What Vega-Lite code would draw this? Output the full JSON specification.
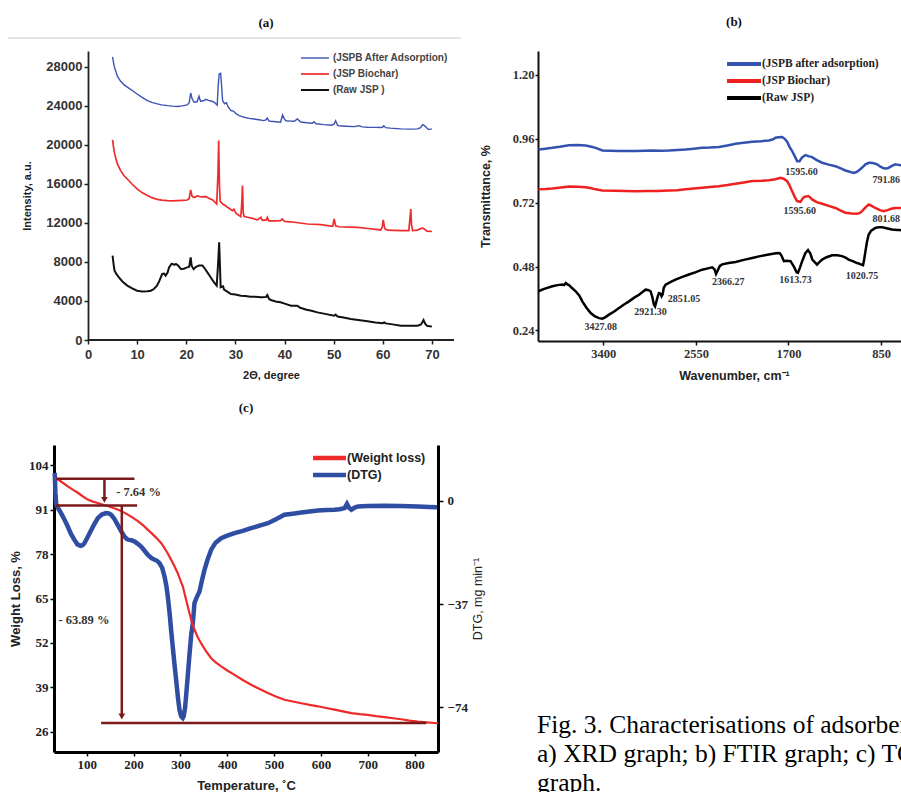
{
"$schema": "https://vega.github.io/schema/vega-lite/v6.json",
"background": "white",
"padding": {"left": 7, "top": 16, "right": 0, "bottom": 0},
"config": {"view": {"stroke": null}, "axis": {"grid": false, "labelOverlap": false}, "title": {"font": "Liberation Serif", "fontSize": 13, "fontWeight": "bold", "color": "#111", "frame": "group", "anchor": "middle"}},
"datasets": {
"xrd": [
{"x":5.0,"y":29000,"s":"(JSPB After Adsorption)"},{"x":5.3,"y":28100,"s":"(JSPB After Adsorption)"},{"x":5.6,"y":27600,"s":"(JSPB After Adsorption)"},{"x":6.0,"y":27000,"s":"(JSPB After Adsorption)"},{"x":6.65,"y":26500,"s":"(JSPB After Adsorption)"},{"x":7.3,"y":26150,"s":"(JSPB After Adsorption)"},{"x":8.0,"y":25900,"s":"(JSPB After Adsorption)"},{"x":9.0,"y":25550,"s":"(JSPB After Adsorption)"},{"x":10.0,"y":25200,"s":"(JSPB After Adsorption)"},{"x":11.0,"y":24850,"s":"(JSPB After Adsorption)"},{"x":12.1,"y":24520,"s":"(JSPB After Adsorption)"},{"x":13.0,"y":24330,"s":"(JSPB After Adsorption)"},{"x":14.1,"y":24180,"s":"(JSPB After Adsorption)"},{"x":15.0,"y":24080,"s":"(JSPB After Adsorption)"},{"x":16.2,"y":24000,"s":"(JSPB After Adsorption)"},{"x":17.2,"y":23950,"s":"(JSPB After Adsorption)"},{"x":18.2,"y":23920,"s":"(JSPB After Adsorption)"},{"x":19.2,"y":23980,"s":"(JSPB After Adsorption)"},{"x":20.2,"y":24080,"s":"(JSPB After Adsorption)"},{"x":20.6,"y":24300,"s":"(JSPB After Adsorption)"},{"x":20.9,"y":25300,"s":"(JSPB After Adsorption)"},{"x":21.2,"y":24700,"s":"(JSPB After Adsorption)"},{"x":21.6,"y":24350,"s":"(JSPB After Adsorption)"},{"x":22.2,"y":24400,"s":"(JSPB After Adsorption)"},{"x":22.6,"y":24960,"s":"(JSPB After Adsorption)"},{"x":22.9,"y":24450,"s":"(JSPB After Adsorption)"},{"x":23.5,"y":24500,"s":"(JSPB After Adsorption)"},{"x":24.0,"y":24650,"s":"(JSPB After Adsorption)"},{"x":24.5,"y":24550,"s":"(JSPB After Adsorption)"},{"x":25.2,"y":24450,"s":"(JSPB After Adsorption)"},{"x":25.7,"y":24350,"s":"(JSPB After Adsorption)"},{"x":26.3,"y":24050,"s":"(JSPB After Adsorption)"},{"x":26.5,"y":26000,"s":"(JSPB After Adsorption)"},{"x":26.7,"y":27250,"s":"(JSPB After Adsorption)"},{"x":27.0,"y":27320,"s":"(JSPB After Adsorption)"},{"x":27.2,"y":26000,"s":"(JSPB After Adsorption)"},{"x":27.4,"y":24520,"s":"(JSPB After Adsorption)"},{"x":27.8,"y":24200,"s":"(JSPB After Adsorption)"},{"x":28.2,"y":24300,"s":"(JSPB After Adsorption)"},{"x":28.5,"y":23900,"s":"(JSPB After Adsorption)"},{"x":29.1,"y":23500,"s":"(JSPB After Adsorption)"},{"x":29.6,"y":23450,"s":"(JSPB After Adsorption)"},{"x":30.2,"y":23150,"s":"(JSPB After Adsorption)"},{"x":30.8,"y":22980,"s":"(JSPB After Adsorption)"},{"x":31.8,"y":22810,"s":"(JSPB After Adsorption)"},{"x":32.8,"y":22700,"s":"(JSPB After Adsorption)"},{"x":33.8,"y":22640,"s":"(JSPB After Adsorption)"},{"x":34.8,"y":22560,"s":"(JSPB After Adsorption)"},{"x":35.8,"y":22470,"s":"(JSPB After Adsorption)"},{"x":36.2,"y":22550,"s":"(JSPB After Adsorption)"},{"x":36.5,"y":22740,"s":"(JSPB After Adsorption)"},{"x":36.8,"y":22450,"s":"(JSPB After Adsorption)"},{"x":37.2,"y":22400,"s":"(JSPB After Adsorption)"},{"x":38.2,"y":22350,"s":"(JSPB After Adsorption)"},{"x":39.2,"y":22300,"s":"(JSPB After Adsorption)"},{"x":39.6,"y":23050,"s":"(JSPB After Adsorption)"},{"x":40.0,"y":22600,"s":"(JSPB After Adsorption)"},{"x":40.3,"y":22450,"s":"(JSPB After Adsorption)"},{"x":41.2,"y":22420,"s":"(JSPB After Adsorption)"},{"x":42.0,"y":22400,"s":"(JSPB After Adsorption)"},{"x":42.6,"y":22640,"s":"(JSPB After Adsorption)"},{"x":43.3,"y":22330,"s":"(JSPB After Adsorption)"},{"x":44.5,"y":22250,"s":"(JSPB After Adsorption)"},{"x":45.7,"y":22200,"s":"(JSPB After Adsorption)"},{"x":46.0,"y":22350,"s":"(JSPB After Adsorption)"},{"x":46.4,"y":22150,"s":"(JSPB After Adsorption)"},{"x":48.0,"y":22060,"s":"(JSPB After Adsorption)"},{"x":49.5,"y":22000,"s":"(JSPB After Adsorption)"},{"x":50.1,"y":22100,"s":"(JSPB After Adsorption)"},{"x":50.4,"y":22450,"s":"(JSPB After Adsorption)"},{"x":50.8,"y":22000,"s":"(JSPB After Adsorption)"},{"x":51.1,"y":21950,"s":"(JSPB After Adsorption)"},{"x":52.5,"y":21900,"s":"(JSPB After Adsorption)"},{"x":54.2,"y":21850,"s":"(JSPB After Adsorption)"},{"x":55.2,"y":21950,"s":"(JSPB After Adsorption)"},{"x":55.8,"y":21830,"s":"(JSPB After Adsorption)"},{"x":56.9,"y":21790,"s":"(JSPB After Adsorption)"},{"x":58.5,"y":21780,"s":"(JSPB After Adsorption)"},{"x":59.9,"y":21760,"s":"(JSPB After Adsorption)"},{"x":60.2,"y":21950,"s":"(JSPB After Adsorption)"},{"x":60.6,"y":21750,"s":"(JSPB After Adsorption)"},{"x":61.5,"y":21700,"s":"(JSPB After Adsorption)"},{"x":63.7,"y":21620,"s":"(JSPB After Adsorption)"},{"x":65.5,"y":21600,"s":"(JSPB After Adsorption)"},{"x":67.1,"y":21620,"s":"(JSPB After Adsorption)"},{"x":67.7,"y":21750,"s":"(JSPB After Adsorption)"},{"x":68.1,"y":22060,"s":"(JSPB After Adsorption)"},{"x":68.5,"y":21950,"s":"(JSPB After Adsorption)"},{"x":68.8,"y":21800,"s":"(JSPB After Adsorption)"},{"x":69.3,"y":21550,"s":"(JSPB After Adsorption)"},{"x":70.0,"y":21620,"s":"(JSPB After Adsorption)"},
{"x":5.0,"y":20490,"s":"(JSP Biochar)"},{"x":5.3,"y":19400,"s":"(JSP Biochar)"},{"x":5.6,"y":18710,"s":"(JSP Biochar)"},{"x":6.0,"y":18000,"s":"(JSP Biochar)"},{"x":6.65,"y":17350,"s":"(JSP Biochar)"},{"x":7.3,"y":16850,"s":"(JSP Biochar)"},{"x":8.0,"y":16490,"s":"(JSP Biochar)"},{"x":9.0,"y":15950,"s":"(JSP Biochar)"},{"x":10.0,"y":15470,"s":"(JSP Biochar)"},{"x":11.0,"y":15100,"s":"(JSP Biochar)"},{"x":12.1,"y":14790,"s":"(JSP Biochar)"},{"x":13.0,"y":14580,"s":"(JSP Biochar)"},{"x":14.1,"y":14410,"s":"(JSP Biochar)"},{"x":15.0,"y":14330,"s":"(JSP Biochar)"},{"x":16.2,"y":14270,"s":"(JSP Biochar)"},{"x":17.2,"y":14250,"s":"(JSP Biochar)"},{"x":18.2,"y":14270,"s":"(JSP Biochar)"},{"x":19.2,"y":14300,"s":"(JSP Biochar)"},{"x":20.2,"y":14340,"s":"(JSP Biochar)"},{"x":20.6,"y":14500,"s":"(JSP Biochar)"},{"x":20.9,"y":15370,"s":"(JSP Biochar)"},{"x":21.2,"y":14700,"s":"(JSP Biochar)"},{"x":21.6,"y":14600,"s":"(JSP Biochar)"},{"x":22.3,"y":14750,"s":"(JSP Biochar)"},{"x":23.0,"y":14650,"s":"(JSP Biochar)"},{"x":24.0,"y":14680,"s":"(JSP Biochar)"},{"x":24.7,"y":14500,"s":"(JSP Biochar)"},{"x":25.4,"y":14340,"s":"(JSP Biochar)"},{"x":26.2,"y":13930,"s":"(JSP Biochar)"},{"x":26.45,"y":17000,"s":"(JSP Biochar)"},{"x":26.6,"y":20420,"s":"(JSP Biochar)"},{"x":26.75,"y":16000,"s":"(JSP Biochar)"},{"x":26.9,"y":14200,"s":"(JSP Biochar)"},{"x":27.5,"y":13900,"s":"(JSP Biochar)"},{"x":28.0,"y":13750,"s":"(JSP Biochar)"},{"x":28.4,"y":13590,"s":"(JSP Biochar)"},{"x":29.4,"y":13250,"s":"(JSP Biochar)"},{"x":29.7,"y":13400,"s":"(JSP Biochar)"},{"x":30.1,"y":13000,"s":"(JSP Biochar)"},{"x":31.1,"y":12640,"s":"(JSP Biochar)"},{"x":31.3,"y":14000,"s":"(JSP Biochar)"},{"x":31.45,"y":15810,"s":"(JSP Biochar)"},{"x":31.6,"y":13000,"s":"(JSP Biochar)"},{"x":31.8,"y":12650,"s":"(JSP Biochar)"},{"x":32.5,"y":12570,"s":"(JSP Biochar)"},{"x":33.5,"y":12450,"s":"(JSP Biochar)"},{"x":34.5,"y":12300,"s":"(JSP Biochar)"},{"x":35.2,"y":12570,"s":"(JSP Biochar)"},{"x":35.5,"y":12250,"s":"(JSP Biochar)"},{"x":36.3,"y":12300,"s":"(JSP Biochar)"},{"x":36.5,"y":12550,"s":"(JSP Biochar)"},{"x":36.8,"y":12200,"s":"(JSP Biochar)"},{"x":38.0,"y":12200,"s":"(JSP Biochar)"},{"x":39.2,"y":12230,"s":"(JSP Biochar)"},{"x":39.5,"y":12400,"s":"(JSP Biochar)"},{"x":40.0,"y":12150,"s":"(JSP Biochar)"},{"x":42.0,"y":12060,"s":"(JSP Biochar)"},{"x":44.7,"y":11880,"s":"(JSP Biochar)"},{"x":47.4,"y":11820,"s":"(JSP Biochar)"},{"x":49.8,"y":11650,"s":"(JSP Biochar)"},{"x":50.1,"y":12400,"s":"(JSP Biochar)"},{"x":50.4,"y":11700,"s":"(JSP Biochar)"},{"x":51.0,"y":11600,"s":"(JSP Biochar)"},{"x":54.8,"y":11540,"s":"(JSP Biochar)"},{"x":57.0,"y":11420,"s":"(JSP Biochar)"},{"x":59.6,"y":11270,"s":"(JSP Biochar)"},{"x":59.9,"y":11600,"s":"(JSP Biochar)"},{"x":60.1,"y":12300,"s":"(JSP Biochar)"},{"x":60.4,"y":11400,"s":"(JSP Biochar)"},{"x":61.0,"y":11250,"s":"(JSP Biochar)"},{"x":63.7,"y":11200,"s":"(JSP Biochar)"},{"x":65.3,"y":11200,"s":"(JSP Biochar)"},{"x":65.55,"y":12500,"s":"(JSP Biochar)"},{"x":65.7,"y":13420,"s":"(JSP Biochar)"},{"x":65.85,"y":11800,"s":"(JSP Biochar)"},{"x":66.1,"y":11200,"s":"(JSP Biochar)"},{"x":67.0,"y":11250,"s":"(JSP Biochar)"},{"x":68.1,"y":11470,"s":"(JSP Biochar)"},{"x":68.5,"y":11350,"s":"(JSP Biochar)"},{"x":69.0,"y":11150,"s":"(JSP Biochar)"},{"x":70.0,"y":11130,"s":"(JSP Biochar)"},
{"x":5.0,"y":8640,"s":"(Raw JSP )"},{"x":5.2,"y":7800,"s":"(Raw JSP )"},{"x":5.4,"y":7100,"s":"(Raw JSP )"},{"x":5.8,"y":6750,"s":"(Raw JSP )"},{"x":6.3,"y":6420,"s":"(Raw JSP )"},{"x":7.0,"y":6000,"s":"(Raw JSP )"},{"x":8.0,"y":5570,"s":"(Raw JSP )"},{"x":9.0,"y":5280,"s":"(Raw JSP )"},{"x":10.0,"y":5050,"s":"(Raw JSP )"},{"x":11.0,"y":4980,"s":"(Raw JSP )"},{"x":12.1,"y":4990,"s":"(Raw JSP )"},{"x":12.8,"y":5050,"s":"(Raw JSP )"},{"x":13.4,"y":5220,"s":"(Raw JSP )"},{"x":14.0,"y":5550,"s":"(Raw JSP )"},{"x":14.4,"y":5910,"s":"(Raw JSP )"},{"x":15.1,"y":6760,"s":"(Raw JSP )"},{"x":15.5,"y":6800,"s":"(Raw JSP )"},{"x":15.8,"y":6590,"s":"(Raw JSP )"},{"x":16.2,"y":6900,"s":"(Raw JSP )"},{"x":16.5,"y":7440,"s":"(Raw JSP )"},{"x":17.0,"y":7800,"s":"(Raw JSP )"},{"x":17.2,"y":7790,"s":"(Raw JSP )"},{"x":17.6,"y":7700,"s":"(Raw JSP )"},{"x":17.9,"y":7790,"s":"(Raw JSP )"},{"x":18.4,"y":7600,"s":"(Raw JSP )"},{"x":18.9,"y":7270,"s":"(Raw JSP )"},{"x":19.5,"y":7300,"s":"(Raw JSP )"},{"x":20.2,"y":7440,"s":"(Raw JSP )"},{"x":20.6,"y":7500,"s":"(Raw JSP )"},{"x":20.9,"y":8470,"s":"(Raw JSP )"},{"x":21.1,"y":7600,"s":"(Raw JSP )"},{"x":21.5,"y":7250,"s":"(Raw JSP )"},{"x":22.0,"y":7500,"s":"(Raw JSP )"},{"x":22.6,"y":7620,"s":"(Raw JSP )"},{"x":23.3,"y":7620,"s":"(Raw JSP )"},{"x":23.8,"y":7300,"s":"(Raw JSP )"},{"x":24.3,"y":6930,"s":"(Raw JSP )"},{"x":25.0,"y":6400,"s":"(Raw JSP )"},{"x":25.4,"y":6080,"s":"(Raw JSP )"},{"x":25.9,"y":5750,"s":"(Raw JSP )"},{"x":26.2,"y":5570,"s":"(Raw JSP )"},{"x":26.5,"y":8000,"s":"(Raw JSP )"},{"x":26.7,"y":10010,"s":"(Raw JSP )"},{"x":26.9,"y":7000,"s":"(Raw JSP )"},{"x":27.0,"y":5400,"s":"(Raw JSP )"},{"x":27.5,"y":5500,"s":"(Raw JSP )"},{"x":27.7,"y":5150,"s":"(Raw JSP )"},{"x":28.5,"y":4900,"s":"(Raw JSP )"},{"x":29.1,"y":4710,"s":"(Raw JSP )"},{"x":30.0,"y":4650,"s":"(Raw JSP )"},{"x":31.1,"y":4540,"s":"(Raw JSP )"},{"x":32.0,"y":4500,"s":"(Raw JSP )"},{"x":33.1,"y":4440,"s":"(Raw JSP )"},{"x":34.0,"y":4420,"s":"(Raw JSP )"},{"x":35.2,"y":4370,"s":"(Raw JSP )"},{"x":36.2,"y":4400,"s":"(Raw JSP )"},{"x":36.5,"y":4600,"s":"(Raw JSP )"},{"x":36.8,"y":4250,"s":"(Raw JSP )"},{"x":37.2,"y":4100,"s":"(Raw JSP )"},{"x":38.2,"y":3950,"s":"(Raw JSP )"},{"x":39.2,"y":3860,"s":"(Raw JSP )"},{"x":40.2,"y":3700,"s":"(Raw JSP )"},{"x":41.3,"y":3520,"s":"(Raw JSP )"},{"x":42.6,"y":3520,"s":"(Raw JSP )"},{"x":43.2,"y":3300,"s":"(Raw JSP )"},{"x":44.5,"y":3100,"s":"(Raw JSP )"},{"x":45.5,"y":3000,"s":"(Raw JSP )"},{"x":46.7,"y":2830,"s":"(Raw JSP )"},{"x":48.5,"y":2650,"s":"(Raw JSP )"},{"x":50.1,"y":2490,"s":"(Raw JSP )"},{"x":50.4,"y":2600,"s":"(Raw JSP )"},{"x":50.8,"y":2400,"s":"(Raw JSP )"},{"x":52.0,"y":2300,"s":"(Raw JSP )"},{"x":53.5,"y":2150,"s":"(Raw JSP )"},{"x":55.0,"y":2050,"s":"(Raw JSP )"},{"x":56.9,"y":1910,"s":"(Raw JSP )"},{"x":58.5,"y":1800,"s":"(Raw JSP )"},{"x":60.0,"y":1720,"s":"(Raw JSP )"},{"x":60.3,"y":1810,"s":"(Raw JSP )"},{"x":60.6,"y":1700,"s":"(Raw JSP )"},{"x":62.0,"y":1600,"s":"(Raw JSP )"},{"x":63.7,"y":1470,"s":"(Raw JSP )"},{"x":65.5,"y":1450,"s":"(Raw JSP )"},{"x":67.1,"y":1470,"s":"(Raw JSP )"},{"x":67.8,"y":1600,"s":"(Raw JSP )"},{"x":68.3,"y":2050,"s":"(Raw JSP )"},{"x":68.6,"y":1700,"s":"(Raw JSP )"},{"x":69.0,"y":1450,"s":"(Raw JSP )"},{"x":70.0,"y":1370,"s":"(Raw JSP )"}
],
"sep": [{"x1": -16.28, "x2": 75.93, "y": 30931}],
"xbase": [{"x1": 0, "x2": 74.5, "y": 0}],
"lega": [{"x1":43.35,"x2":49.05,"lx":49.87,"y":28883,"s":"(JSPB After Adsorption)"},{"x1":43.35,"x2":49.05,"lx":49.87,"y":27245,"s":"(JSP Biochar)"},{"x1":43.35,"x2":49.05,"lx":49.87,"y":25606,"s":"(Raw JSP )"}],
"ftir": [
{"w":3996,"t":0.920,"s":"(JSPB after adsorption)"},{"w":3950,"t":0.922,"s":"(JSPB after adsorption)"},{"w":3868,"t":0.926,"s":"(JSPB after adsorption)"},{"w":3800,"t":0.930,"s":"(JSPB after adsorption)"},{"w":3715,"t":0.936,"s":"(JSPB after adsorption)"},{"w":3640,"t":0.937,"s":"(JSPB after adsorption)"},{"w":3562,"t":0.935,"s":"(JSPB after adsorption)"},{"w":3510,"t":0.930,"s":"(JSPB after adsorption)"},{"w":3470,"t":0.926,"s":"(JSPB after adsorption)"},{"w":3409,"t":0.916,"s":"(JSPB after adsorption)"},{"w":3330,"t":0.915,"s":"(JSPB after adsorption)"},{"w":3256,"t":0.914,"s":"(JSPB after adsorption)"},{"w":3180,"t":0.914,"s":"(JSPB after adsorption)"},{"w":3103,"t":0.914,"s":"(JSPB after adsorption)"},{"w":3020,"t":0.915,"s":"(JSPB after adsorption)"},{"w":2950,"t":0.916,"s":"(JSPB after adsorption)"},{"w":2870,"t":0.915,"s":"(JSPB after adsorption)"},{"w":2798,"t":0.916,"s":"(JSPB after adsorption)"},{"w":2720,"t":0.918,"s":"(JSPB after adsorption)"},{"w":2645,"t":0.920,"s":"(JSPB after adsorption)"},{"w":2570,"t":0.923,"s":"(JSPB after adsorption)"},{"w":2492,"t":0.926,"s":"(JSPB after adsorption)"},{"w":2420,"t":0.927,"s":"(JSPB after adsorption)"},{"w":2339,"t":0.929,"s":"(JSPB after adsorption)"},{"w":2260,"t":0.935,"s":"(JSPB after adsorption)"},{"w":2186,"t":0.941,"s":"(JSPB after adsorption)"},{"w":2110,"t":0.945,"s":"(JSPB after adsorption)"},{"w":2033,"t":0.949,"s":"(JSPB after adsorption)"},{"w":1950,"t":0.951,"s":"(JSPB after adsorption)"},{"w":1880,"t":0.954,"s":"(JSPB after adsorption)"},{"w":1840,"t":0.958,"s":"(JSPB after adsorption)"},{"w":1819,"t":0.964,"s":"(JSPB after adsorption)"},{"w":1790,"t":0.966,"s":"(JSPB after adsorption)"},{"w":1758,"t":0.967,"s":"(JSPB after adsorption)"},{"w":1735,"t":0.960,"s":"(JSPB after adsorption)"},{"w":1712,"t":0.949,"s":"(JSPB after adsorption)"},{"w":1690,"t":0.930,"s":"(JSPB after adsorption)"},{"w":1666,"t":0.914,"s":"(JSPB after adsorption)"},{"w":1640,"t":0.893,"s":"(JSPB after adsorption)"},{"w":1620,"t":0.876,"s":"(JSPB after adsorption)"},{"w":1598,"t":0.876,"s":"(JSPB after adsorption)"},{"w":1575,"t":0.890,"s":"(JSPB after adsorption)"},{"w":1544,"t":0.899,"s":"(JSPB after adsorption)"},{"w":1510,"t":0.894,"s":"(JSPB after adsorption)"},{"w":1483,"t":0.891,"s":"(JSPB after adsorption)"},{"w":1440,"t":0.880,"s":"(JSPB after adsorption)"},{"w":1391,"t":0.870,"s":"(JSPB after adsorption)"},{"w":1330,"t":0.863,"s":"(JSPB after adsorption)"},{"w":1269,"t":0.857,"s":"(JSPB after adsorption)"},{"w":1220,"t":0.849,"s":"(JSPB after adsorption)"},{"w":1177,"t":0.841,"s":"(JSPB after adsorption)"},{"w":1130,"t":0.835,"s":"(JSPB after adsorption)"},{"w":1100,"t":0.832,"s":"(JSPB after adsorption)"},{"w":1075,"t":0.835,"s":"(JSPB after adsorption)"},{"w":1054,"t":0.841,"s":"(JSPB after adsorption)"},{"w":1020,"t":0.853,"s":"(JSPB after adsorption)"},{"w":993,"t":0.864,"s":"(JSPB after adsorption)"},{"w":960,"t":0.870,"s":"(JSPB after adsorption)"},{"w":948,"t":0.870,"s":"(JSPB after adsorption)"},{"w":915,"t":0.868,"s":"(JSPB after adsorption)"},{"w":886,"t":0.864,"s":"(JSPB after adsorption)"},{"w":855,"t":0.855,"s":"(JSPB after adsorption)"},{"w":825,"t":0.849,"s":"(JSPB after adsorption)"},{"w":800,"t":0.848,"s":"(JSPB after adsorption)"},{"w":780,"t":0.851,"s":"(JSPB after adsorption)"},{"w":750,"t":0.858,"s":"(JSPB after adsorption)"},{"w":718,"t":0.864,"s":"(JSPB after adsorption)"},{"w":690,"t":0.862,"s":"(JSPB after adsorption)"},{"w":660,"t":0.860,"s":"(JSPB after adsorption)"},{"w":600,"t":0.862,"s":"(JSPB after adsorption)"},
{"w":3996,"t":0.770,"s":"(JSP Biochar)"},{"w":3930,"t":0.771,"s":"(JSP Biochar)"},{"w":3868,"t":0.773,"s":"(JSP Biochar)"},{"w":3790,"t":0.777,"s":"(JSP Biochar)"},{"w":3715,"t":0.781,"s":"(JSP Biochar)"},{"w":3640,"t":0.780,"s":"(JSP Biochar)"},{"w":3562,"t":0.778,"s":"(JSP Biochar)"},{"w":3510,"t":0.774,"s":"(JSP Biochar)"},{"w":3470,"t":0.770,"s":"(JSP Biochar)"},{"w":3409,"t":0.766,"s":"(JSP Biochar)"},{"w":3300,"t":0.765,"s":"(JSP Biochar)"},{"w":3200,"t":0.764,"s":"(JSP Biochar)"},{"w":3103,"t":0.763,"s":"(JSP Biochar)"},{"w":3000,"t":0.764,"s":"(JSP Biochar)"},{"w":2900,"t":0.764,"s":"(JSP Biochar)"},{"w":2798,"t":0.766,"s":"(JSP Biochar)"},{"w":2720,"t":0.767,"s":"(JSP Biochar)"},{"w":2645,"t":0.770,"s":"(JSP Biochar)"},{"w":2570,"t":0.773,"s":"(JSP Biochar)"},{"w":2492,"t":0.776,"s":"(JSP Biochar)"},{"w":2420,"t":0.779,"s":"(JSP Biochar)"},{"w":2339,"t":0.782,"s":"(JSP Biochar)"},{"w":2260,"t":0.786,"s":"(JSP Biochar)"},{"w":2186,"t":0.791,"s":"(JSP Biochar)"},{"w":2110,"t":0.796,"s":"(JSP Biochar)"},{"w":2033,"t":0.801,"s":"(JSP Biochar)"},{"w":1950,"t":0.802,"s":"(JSP Biochar)"},{"w":1880,"t":0.804,"s":"(JSP Biochar)"},{"w":1820,"t":0.808,"s":"(JSP Biochar)"},{"w":1773,"t":0.813,"s":"(JSP Biochar)"},{"w":1745,"t":0.810,"s":"(JSP Biochar)"},{"w":1712,"t":0.801,"s":"(JSP Biochar)"},{"w":1690,"t":0.785,"s":"(JSP Biochar)"},{"w":1666,"t":0.763,"s":"(JSP Biochar)"},{"w":1640,"t":0.740,"s":"(JSP Biochar)"},{"w":1620,"t":0.726,"s":"(JSP Biochar)"},{"w":1590,"t":0.723,"s":"(JSP Biochar)"},{"w":1570,"t":0.735,"s":"(JSP Biochar)"},{"w":1559,"t":0.741,"s":"(JSP Biochar)"},{"w":1519,"t":0.745,"s":"(JSP Biochar)"},{"w":1500,"t":0.740,"s":"(JSP Biochar)"},{"w":1483,"t":0.732,"s":"(JSP Biochar)"},{"w":1440,"t":0.722,"s":"(JSP Biochar)"},{"w":1391,"t":0.716,"s":"(JSP Biochar)"},{"w":1330,"t":0.708,"s":"(JSP Biochar)"},{"w":1269,"t":0.700,"s":"(JSP Biochar)"},{"w":1220,"t":0.690,"s":"(JSP Biochar)"},{"w":1177,"t":0.682,"s":"(JSP Biochar)"},{"w":1120,"t":0.679,"s":"(JSP Biochar)"},{"w":1070,"t":0.678,"s":"(JSP Biochar)"},{"w":1040,"t":0.682,"s":"(JSP Biochar)"},{"w":1024,"t":0.688,"s":"(JSP Biochar)"},{"w":990,"t":0.703,"s":"(JSP Biochar)"},{"w":963,"t":0.713,"s":"(JSP Biochar)"},{"w":935,"t":0.708,"s":"(JSP Biochar)"},{"w":902,"t":0.700,"s":"(JSP Biochar)"},{"w":860,"t":0.692,"s":"(JSP Biochar)"},{"w":825,"t":0.688,"s":"(JSP Biochar)"},{"w":790,"t":0.692,"s":"(JSP Biochar)"},{"w":749,"t":0.698,"s":"(JSP Biochar)"},{"w":710,"t":0.700,"s":"(JSP Biochar)"},{"w":679,"t":0.700,"s":"(JSP Biochar)"},{"w":600,"t":0.702,"s":"(JSP Biochar)"},
{"w":3996,"t":0.387,"s":"(Raw JSP)"},{"w":3950,"t":0.395,"s":"(Raw JSP)"},{"w":3868,"t":0.406,"s":"(Raw JSP)"},{"w":3820,"t":0.410,"s":"(Raw JSP)"},{"w":3776,"t":0.412,"s":"(Raw JSP)"},{"w":3760,"t":0.410,"s":"(Raw JSP)"},{"w":3745,"t":0.418,"s":"(Raw JSP)"},{"w":3730,"t":0.413,"s":"(Raw JSP)"},{"w":3715,"t":0.410,"s":"(Raw JSP)"},{"w":3690,"t":0.400,"s":"(Raw JSP)"},{"w":3654,"t":0.387,"s":"(Raw JSP)"},{"w":3620,"t":0.370,"s":"(Raw JSP)"},{"w":3593,"t":0.349,"s":"(Raw JSP)"},{"w":3555,"t":0.325,"s":"(Raw JSP)"},{"w":3516,"t":0.305,"s":"(Raw JSP)"},{"w":3480,"t":0.293,"s":"(Raw JSP)"},{"w":3440,"t":0.286,"s":"(Raw JSP)"},{"w":3409,"t":0.284,"s":"(Raw JSP)"},{"w":3380,"t":0.290,"s":"(Raw JSP)"},{"w":3348,"t":0.299,"s":"(Raw JSP)"},{"w":3300,"t":0.311,"s":"(Raw JSP)"},{"w":3256,"t":0.324,"s":"(Raw JSP)"},{"w":3210,"t":0.337,"s":"(Raw JSP)"},{"w":3164,"t":0.349,"s":"(Raw JSP)"},{"w":3120,"t":0.362,"s":"(Raw JSP)"},{"w":3072,"t":0.374,"s":"(Raw JSP)"},{"w":3040,"t":0.384,"s":"(Raw JSP)"},{"w":3012,"t":0.393,"s":"(Raw JSP)"},{"w":2990,"t":0.392,"s":"(Raw JSP)"},{"w":2966,"t":0.387,"s":"(Raw JSP)"},{"w":2950,"t":0.365,"s":"(Raw JSP)"},{"w":2936,"t":0.337,"s":"(Raw JSP)"},{"w":2925,"t":0.330,"s":"(Raw JSP)"},{"w":2915,"t":0.345,"s":"(Raw JSP)"},{"w":2900,"t":0.368,"s":"(Raw JSP)"},{"w":2889,"t":0.380,"s":"(Raw JSP)"},{"w":2875,"t":0.378,"s":"(Raw JSP)"},{"w":2865,"t":0.368,"s":"(Raw JSP)"},{"w":2855,"t":0.375,"s":"(Raw JSP)"},{"w":2845,"t":0.400,"s":"(Raw JSP)"},{"w":2828,"t":0.412,"s":"(Raw JSP)"},{"w":2780,"t":0.422,"s":"(Raw JSP)"},{"w":2737,"t":0.431,"s":"(Raw JSP)"},{"w":2680,"t":0.440,"s":"(Raw JSP)"},{"w":2614,"t":0.450,"s":"(Raw JSP)"},{"w":2550,"t":0.459,"s":"(Raw JSP)"},{"w":2492,"t":0.468,"s":"(Raw JSP)"},{"w":2440,"t":0.473,"s":"(Raw JSP)"},{"w":2400,"t":0.477,"s":"(Raw JSP)"},{"w":2380,"t":0.470,"s":"(Raw JSP)"},{"w":2365,"t":0.452,"s":"(Raw JSP)"},{"w":2350,"t":0.465,"s":"(Raw JSP)"},{"w":2330,"t":0.482,"s":"(Raw JSP)"},{"w":2308,"t":0.488,"s":"(Raw JSP)"},{"w":2250,"t":0.493,"s":"(Raw JSP)"},{"w":2186,"t":0.497,"s":"(Raw JSP)"},{"w":2110,"t":0.505,"s":"(Raw JSP)"},{"w":2033,"t":0.512,"s":"(Raw JSP)"},{"w":1960,"t":0.519,"s":"(Raw JSP)"},{"w":1880,"t":0.525,"s":"(Raw JSP)"},{"w":1830,"t":0.529,"s":"(Raw JSP)"},{"w":1800,"t":0.531,"s":"(Raw JSP)"},{"w":1780,"t":0.530,"s":"(Raw JSP)"},{"w":1765,"t":0.522,"s":"(Raw JSP)"},{"w":1742,"t":0.500,"s":"(Raw JSP)"},{"w":1715,"t":0.502,"s":"(Raw JSP)"},{"w":1681,"t":0.500,"s":"(Raw JSP)"},{"w":1650,"t":0.480,"s":"(Raw JSP)"},{"w":1625,"t":0.458,"s":"(Raw JSP)"},{"w":1613,"t":0.456,"s":"(Raw JSP)"},{"w":1595,"t":0.475,"s":"(Raw JSP)"},{"w":1574,"t":0.500,"s":"(Raw JSP)"},{"w":1545,"t":0.530,"s":"(Raw JSP)"},{"w":1520,"t":0.542,"s":"(Raw JSP)"},{"w":1500,"t":0.530,"s":"(Raw JSP)"},{"w":1480,"t":0.505,"s":"(Raw JSP)"},{"w":1467,"t":0.500,"s":"(Raw JSP)"},{"w":1437,"t":0.487,"s":"(Raw JSP)"},{"w":1420,"t":0.495,"s":"(Raw JSP)"},{"w":1391,"t":0.506,"s":"(Raw JSP)"},{"w":1350,"t":0.515,"s":"(Raw JSP)"},{"w":1299,"t":0.522,"s":"(Raw JSP)"},{"w":1250,"t":0.522,"s":"(Raw JSP)"},{"w":1208,"t":0.519,"s":"(Raw JSP)"},{"w":1175,"t":0.513,"s":"(Raw JSP)"},{"w":1147,"t":0.506,"s":"(Raw JSP)"},{"w":1110,"t":0.500,"s":"(Raw JSP)"},{"w":1070,"t":0.493,"s":"(Raw JSP)"},{"w":1045,"t":0.490,"s":"(Raw JSP)"},{"w":1030,"t":0.487,"s":"(Raw JSP)"},{"w":1015,"t":0.485,"s":"(Raw JSP)"},{"w":1005,"t":0.505,"s":"(Raw JSP)"},{"w":993,"t":0.537,"s":"(Raw JSP)"},{"w":980,"t":0.570,"s":"(Raw JSP)"},{"w":963,"t":0.600,"s":"(Raw JSP)"},{"w":940,"t":0.615,"s":"(Raw JSP)"},{"w":902,"t":0.625,"s":"(Raw JSP)"},{"w":870,"t":0.628,"s":"(Raw JSP)"},{"w":841,"t":0.628,"s":"(Raw JSP)"},{"w":800,"t":0.624,"s":"(Raw JSP)"},{"w":749,"t":0.619,"s":"(Raw JSP)"},{"w":700,"t":0.617,"s":"(Raw JSP)"},{"w":679,"t":0.617,"s":"(Raw JSP)"},{"w":600,"t":0.615,"s":"(Raw JSP)"}
],
"legb": [{"w1":2264,"w2":1952,"lw":1943,"t":1.241,"s":"(JSPB after adsorption)"},{"w1":2264,"w2":1952,"lw":1943,"t":1.177,"s":"(JSP Biochar)"},{"w1":2264,"w2":1952,"lw":1943,"t":1.113,"s":"(Raw JSP)"}],
"peaks": [
{"w":1580,"t":0.836,"label":"1595.60"},{"w":801,"t":0.807,"label":"791.86"},{"w":1596,"t":0.688,"label":"1595.60"},{"w":801,"t":0.660,"label":"801.68"},{"w":3424,"t":0.251,"label":"3427.08"},{"w":2966,"t":0.309,"label":"2921.30"},{"w":2660,"t":0.358,"label":"2851.05"},{"w":2253,"t":0.422,"label":"2366.27"},{"w":1636,"t":0.431,"label":"1613.73"},{"w":1024,"t":0.446,"label":"1020.75"}
],
"tga": [
{"T":33,"W":100.3,"s":"(Weight loss)"},{"T":45,"W":99.3,"s":"(Weight loss)"},{"T":59.4,"W":97.9,"s":"(Weight loss)"},{"T":70,"W":96.9,"s":"(Weight loss)"},{"T":80.8,"W":96.0,"s":"(Weight loss)"},{"T":92,"W":94.9,"s":"(Weight loss)"},{"T":102,"W":94.0,"s":"(Weight loss)"},{"T":113,"W":93.4,"s":"(Weight loss)"},{"T":123.5,"W":93.0,"s":"(Weight loss)"},{"T":135,"W":92.5,"s":"(Weight loss)"},{"T":144.9,"W":92.1,"s":"(Weight loss)"},{"T":155,"W":91.6,"s":"(Weight loss)"},{"T":166,"W":91.1,"s":"(Weight loss)"},{"T":177,"W":90.4,"s":"(Weight loss)"},{"T":187.6,"W":89.6,"s":"(Weight loss)"},{"T":198,"W":88.7,"s":"(Weight loss)"},{"T":209,"W":87.7,"s":"(Weight loss)"},{"T":220,"W":86.5,"s":"(Weight loss)"},{"T":230,"W":85.2,"s":"(Weight loss)"},{"T":241,"W":83.8,"s":"(Weight loss)"},{"T":252,"W":82.3,"s":"(Weight loss)"},{"T":259,"W":81.2,"s":"(Weight loss)"},{"T":266,"W":79.8,"s":"(Weight loss)"},{"T":273,"W":78.2,"s":"(Weight loss)"},{"T":280,"W":76.4,"s":"(Weight loss)"},{"T":287,"W":74.5,"s":"(Weight loss)"},{"T":294,"W":72.5,"s":"(Weight loss)"},{"T":300,"W":70.3,"s":"(Weight loss)"},{"T":305,"W":68.6,"s":"(Weight loss)"},{"T":312,"W":64.7,"s":"(Weight loss)"},{"T":319,"W":60.8,"s":"(Weight loss)"},{"T":325,"W":57.8,"s":"(Weight loss)"},{"T":330,"W":55.9,"s":"(Weight loss)"},{"T":337,"W":53.6,"s":"(Weight loss)"},{"T":344,"W":51.9,"s":"(Weight loss)"},{"T":355,"W":49.5,"s":"(Weight loss)"},{"T":365.7,"W":47.5,"s":"(Weight loss)"},{"T":376,"W":46.2,"s":"(Weight loss)"},{"T":387,"W":45.1,"s":"(Weight loss)"},{"T":400,"W":43.9,"s":"(Weight loss)"},{"T":415.5,"W":42.6,"s":"(Weight loss)"},{"T":433,"W":41.1,"s":"(Weight loss)"},{"T":451,"W":39.7,"s":"(Weight loss)"},{"T":469,"W":38.5,"s":"(Weight loss)"},{"T":486.8,"W":37.3,"s":"(Weight loss)"},{"T":505,"W":36.2,"s":"(Weight loss)"},{"T":522,"W":35.3,"s":"(Weight loss)"},{"T":540,"W":34.8,"s":"(Weight loss)"},{"T":558,"W":34.3,"s":"(Weight loss)"},{"T":576,"W":33.8,"s":"(Weight loss)"},{"T":593.6,"W":33.4,"s":"(Weight loss)"},{"T":611,"W":32.9,"s":"(Weight loss)"},{"T":629,"W":32.4,"s":"(Weight loss)"},{"T":647,"W":31.9,"s":"(Weight loss)"},{"T":665,"W":31.4,"s":"(Weight loss)"},{"T":683,"W":31.1,"s":"(Weight loss)"},{"T":700,"W":30.9,"s":"(Weight loss)"},{"T":718,"W":30.5,"s":"(Weight loss)"},{"T":736,"W":30.2,"s":"(Weight loss)"},{"T":754,"W":29.9,"s":"(Weight loss)"},{"T":771.6,"W":29.6,"s":"(Weight loss)"},{"T":789,"W":29.2,"s":"(Weight loss)"},{"T":807,"W":28.9,"s":"(Weight loss)"},{"T":825,"W":28.7,"s":"(Weight loss)"},{"T":843,"W":28.5,"s":"(Weight loss)"},{"T":850,"W":28.4,"s":"(Weight loss)"}
],
"dtg": [
{"T":31.5,"D":10,"s":"(DTG)"},{"T":33,"D":3,"s":"(DTG)"},{"T":34.5,"D":-1,"s":"(DTG)"},{"T":36.6,"D":-2.0,"s":"(DTG)"},{"T":40,"D":-3,"s":"(DTG)"},{"T":45,"D":-4.4,"s":"(DTG)"},{"T":52,"D":-6.6,"s":"(DTG)"},{"T":59.4,"D":-9.2,"s":"(DTG)"},{"T":66,"D":-11.8,"s":"(DTG)"},{"T":73.6,"D":-14.0,"s":"(DTG)"},{"T":80,"D":-15.6,"s":"(DTG)"},{"T":86.5,"D":-16.1,"s":"(DTG)"},{"T":91,"D":-15.9,"s":"(DTG)"},{"T":95,"D":-15.2,"s":"(DTG)"},{"T":100,"D":-13.6,"s":"(DTG)"},{"T":106,"D":-11.6,"s":"(DTG)"},{"T":114,"D":-9.0,"s":"(DTG)"},{"T":123.5,"D":-6.2,"s":"(DTG)"},{"T":132,"D":-4.9,"s":"(DTG)"},{"T":141,"D":-4.4,"s":"(DTG)"},{"T":147,"D":-4.5,"s":"(DTG)"},{"T":152,"D":-5.0,"s":"(DTG)"},{"T":159,"D":-6.5,"s":"(DTG)"},{"T":166,"D":-8.6,"s":"(DTG)"},{"T":173,"D":-10.8,"s":"(DTG)"},{"T":180.5,"D":-12.8,"s":"(DTG)"},{"T":186,"D":-13.8,"s":"(DTG)"},{"T":191,"D":-14.0,"s":"(DTG)"},{"T":197,"D":-14.2,"s":"(DTG)"},{"T":202,"D":-14.6,"s":"(DTG)"},{"T":209,"D":-15.4,"s":"(DTG)"},{"T":216,"D":-16.4,"s":"(DTG)"},{"T":223,"D":-17.8,"s":"(DTG)"},{"T":230,"D":-19.3,"s":"(DTG)"},{"T":238,"D":-20.5,"s":"(DTG)"},{"T":245,"D":-21.1,"s":"(DTG)"},{"T":250,"D":-21.5,"s":"(DTG)"},{"T":255.3,"D":-22.3,"s":"(DTG)"},{"T":261,"D":-24,"s":"(DTG)"},{"T":266,"D":-27.1,"s":"(DTG)"},{"T":270,"D":-30.5,"s":"(DTG)"},{"T":273,"D":-34.3,"s":"(DTG)"},{"T":277,"D":-40.5,"s":"(DTG)"},{"T":280,"D":-46.2,"s":"(DTG)"},{"T":284,"D":-53,"s":"(DTG)"},{"T":287,"D":-58.1,"s":"(DTG)"},{"T":291,"D":-64.5,"s":"(DTG)"},{"T":294.4,"D":-70.1,"s":"(DTG)"},{"T":298,"D":-75,"s":"(DTG)"},{"T":301.6,"D":-77.2,"s":"(DTG)"},{"T":305,"D":-77.8,"s":"(DTG)"},{"T":307,"D":-77.2,"s":"(DTG)"},{"T":310,"D":-74,"s":"(DTG)"},{"T":312,"D":-70.1,"s":"(DTG)"},{"T":316,"D":-62,"s":"(DTG)"},{"T":319,"D":-55.7,"s":"(DTG)"},{"T":323,"D":-48,"s":"(DTG)"},{"T":326.5,"D":-43.8,"s":"(DTG)"},{"T":330,"D":-36.6,"s":"(DTG)"},{"T":335,"D":-34.5,"s":"(DTG)"},{"T":340.7,"D":-32.5,"s":"(DTG)"},{"T":346,"D":-28.5,"s":"(DTG)"},{"T":351.4,"D":-24.7,"s":"(DTG)"},{"T":358,"D":-21,"s":"(DTG)"},{"T":365.7,"D":-17.5,"s":"(DTG)"},{"T":375,"D":-15.0,"s":"(DTG)"},{"T":387,"D":-13.4,"s":"(DTG)"},{"T":400,"D":-12.5,"s":"(DTG)"},{"T":415.5,"D":-11.6,"s":"(DTG)"},{"T":433,"D":-10.8,"s":"(DTG)"},{"T":451,"D":-9.8,"s":"(DTG)"},{"T":469,"D":-8.9,"s":"(DTG)"},{"T":486.8,"D":-8.0,"s":"(DTG)"},{"T":505,"D":-6.5,"s":"(DTG)"},{"T":522,"D":-5.0,"s":"(DTG)"},{"T":540,"D":-4.6,"s":"(DTG)"},{"T":558,"D":-4.2,"s":"(DTG)"},{"T":576,"D":-3.8,"s":"(DTG)"},{"T":593.6,"D":-3.5,"s":"(DTG)"},{"T":611,"D":-3.3,"s":"(DTG)"},{"T":629,"D":-3.2,"s":"(DTG)"},{"T":640,"D":-3.0,"s":"(DTG)"},{"T":650.6,"D":-2.6,"s":"(DTG)"},{"T":655.6,"D":-1.1,"s":"(DTG)"},{"T":660,"D":-2.5,"s":"(DTG)"},{"T":665,"D":-3.2,"s":"(DTG)"},{"T":672,"D":-2.4,"s":"(DTG)"},{"T":679,"D":-2.0,"s":"(DTG)"},{"T":700,"D":-1.9,"s":"(DTG)"},{"T":736,"D":-1.8,"s":"(DTG)"},{"T":770,"D":-1.9,"s":"(DTG)"},{"T":807,"D":-2.0,"s":"(DTG)"},{"T":830,"D":-2.2,"s":"(DTG)"},{"T":848,"D":-2.3,"s":"(DTG)"}
],
"legc": [{"T":583.1,"T2":653.5,"LT":655.7,"W":106.19,"s":"(Weight loss)"},{"T":583.1,"T2":653.5,"LT":655.7,"W":101.21,"s":"(DTG)"}],
"hlines": [{"T":34.5,"T2":201.8,"W":100.1},{"T":34.5,"T2":207.5,"W":92.3},{"T":130.6,"T2":825,"W":28.5}],
"vlines": [{"T":137.7,"W":100.1,"W2":94.0},{"T":174.8,"W":92.3,"W2":30.6}],
"heads": [{"T":137.7,"W":93.9},{"T":174.8,"W":30.4}],
"notes": [{"T":162.7,"W":96.2,"label":"- 7.64 %"},{"T":39.5,"W":58.8,"label":"- 63.89 %"}],
"cap": [{"c":0,"line":1,"txt":"Fig. 3. Characterisations of adsorbents"},{"c":0,"line":2,"txt":"a) XRD graph; b) FTIR graph; c) TGA"},{"c":0,"line":3,"txt":"graph."}]
},
"columns": 2,
"align": "none",
"spacing": {"row": 19, "column": -5},
"resolve": {"scale": {"color": "independent", "strokeWidth": "independent"}, "legend": {"color": "independent"}},
"concat": [
{"width": 400, "height": 289,
 "title": {"text": "(a)", "offset": 8, "dx": 12},
 "layer": [
  {"data": {"name": "sep"}, "mark": {"type": "rule", "color": "#c8c8c8", "strokeWidth": 1},
   "encoding": {"x": {"field": "x1", "type": "quantitative"}, "x2": {"field": "x2"}, "y": {"field": "y", "type": "quantitative"}}},
  {"data": {"name": "xbase"}, "mark": {"type": "rule", "color": "#222", "strokeWidth": 1.8},
   "encoding": {"x": {"field": "x1", "type": "quantitative"}, "x2": {"field": "x2"}, "y": {"field": "y", "type": "quantitative"}}},
  {"data": {"name": "xrd"}, "mark": {"type": "line"},
   "encoding": {
    "x": {"field": "x", "type": "quantitative", "scale": {"domain": [-6.92, 74.5], "nice": false, "zero": false},
      "axis": {"title": "2Θ, degree", "domain": false, "values": [0,10,20,30,40,50,60,70], "format": "d", "labelFont": "Liberation Sans", "labelFontWeight": "bold", "labelFontSize": 13, "labelColor": "#333", "labelPadding": 4, "tickSize": 4, "tickWidth": 1.5, "tickColor": "#222", "titleFont": "Liberation Sans", "titleFontWeight": "bold", "titleFontSize": 11, "titleColor": "#222", "titlePadding": 8, "titleX": 217}},
    "y": {"field": "y", "type": "quantitative", "scale": {"domain": [0, 29600], "nice": false},
      "axis": {"title": "Intensity, a.u.", "offset": -34, "values": [0,4000,8000,12000,16000,20000,24000,28000], "format": "d", "labelFont": "Liberation Sans", "labelFontWeight": "bold", "labelFontSize": 13, "labelColor": "#333", "labelPadding": 2, "tickSize": 4, "tickWidth": 1.5, "domainWidth": 1.8, "domainColor": "#222", "tickColor": "#222", "titleFont": "Liberation Sans", "titleFontWeight": "bold", "titleFontSize": 11, "titleColor": "#222", "titlePadding": 13}},
    "color": {"field": "s", "type": "nominal", "scale": {"domain": ["(JSPB After Adsorption)", "(JSP Biochar)", "(Raw JSP )"], "range": ["#3d52b4", "#ef2b2b", "#111111"]}, "legend": null},
    "strokeWidth": {"field": "s", "type": "nominal", "scale": {"domain": ["(JSPB After Adsorption)", "(JSP Biochar)", "(Raw JSP )"], "range": [1.4, 2, 2.2]}, "legend": null}
   }},
  {"data": {"name": "lega"}, "mark": {"type": "rule"},
   "encoding": {"x": {"field": "x1", "type": "quantitative"}, "x2": {"field": "x2"}, "y": {"field": "y", "type": "quantitative"},
    "color": {"field": "s", "type": "nominal", "legend": null}, "strokeWidth": {"field": "s", "type": "nominal", "legend": null}}},
  {"data": {"name": "lega"}, "mark": {"type": "text", "align": "left", "baseline": "middle", "font": "Liberation Sans", "fontSize": 10, "fontWeight": "bold", "color": "#444"},
   "encoding": {"x": {"field": "lx", "type": "quantitative"}, "y": {"field": "y", "type": "quantitative"}, "text": {"field": "s"}}}
 ]},
{"width": 392, "height": 290,
 "title": {"text": "(b)", "offset": 22},
 "layer": [
  {"data": {"name": "ftir"}, "mark": {"type": "line", "strokeWidth": 2.5},
   "encoding": {
    "x": {"field": "w", "type": "quantitative", "scale": {"domain": [400, 4000], "reverse": true, "nice": false, "zero": false},
      "axis": {"title": "Wavenumber, cm⁻¹", "values": [3400, 2550, 1700, 850], "format": "d", "labelFont": "Liberation Serif", "labelFontWeight": "bold", "labelFontSize": 12.5, "labelColor": "#333", "labelPadding": 2, "tickSize": 4, "tickWidth": 1.5, "domainWidth": 2, "domainColor": "#111", "tickColor": "#111", "titleFont": "Liberation Sans", "titleFontWeight": "bold", "titleFontSize": 12.5, "titleColor": "#222", "titlePadding": 10}},
    "y": {"field": "t", "type": "quantitative", "scale": {"domain": [0.2, 1.29], "nice": false, "zero": false},
      "axis": {"title": "Transmittance, %", "values": [0.24,0.36,0.48,0.6,0.72,0.84,0.96,1.08,1.2], "format": ".2f", "labelFont": "Liberation Serif", "labelFontWeight": "bold", "labelFontSize": 12.5, "labelColor": "#333", "labelPadding": 1, "tickSize": 3, "tickWidth": 1.5, "domainWidth": 2, "domainColor": "#111", "tickColor": "#111", "titleFont": "Liberation Sans", "titleFontWeight": "bold", "titleFontSize": 12.5, "titleColor": "#222", "titlePadding": 20}},
    "color": {"field": "s", "type": "nominal", "scale": {"domain": ["(JSPB after adsorption)", "(JSP Biochar)", "(Raw JSP)"], "range": ["#3352b0", "#ef2020", "#000000"]}, "legend": null}
   }},
  {"data": {"name": "legb"}, "mark": {"type": "rule", "strokeWidth": 4},
   "encoding": {"x": {"field": "w1", "type": "quantitative"}, "x2": {"field": "w2"}, "y": {"field": "t", "type": "quantitative"}, "color": {"field": "s", "type": "nominal", "legend": null}}},
  {"data": {"name": "legb"}, "mark": {"type": "text", "align": "left", "baseline": "middle", "font": "Liberation Serif", "fontSize": 11.5, "fontWeight": "bold", "color": "#222"},
   "encoding": {"x": {"field": "lw", "type": "quantitative"}, "y": {"field": "t", "type": "quantitative"}, "text": {"field": "s"}}},
  {"data": {"name": "peaks"}, "mark": {"type": "text", "font": "Liberation Serif", "fontWeight": "bold", "fontSize": 10, "color": "#333", "align": "center", "baseline": "middle"},
   "encoding": {"x": {"field": "w", "type": "quantitative"}, "y": {"field": "t", "type": "quantitative"}, "text": {"field": "label"}}}
 ]},
{"width": 384, "height": 307,
 "title": {"text": "(c)", "offset": 30.5},
 "layer": [
  {"data": {"name": "dtg"}, "mark": {"type": "line", "strokeWidth": 4.5},
   "encoding": {
    "x": {"field": "T", "type": "quantitative", "scale": {"domain": [30, 850], "nice": false, "zero": false},
      "axis": {"title": "Temperature, ˚C", "values": [100,200,300,400,500,600,700,800], "format": "d", "labelFont": "Liberation Serif", "labelFontWeight": "bold", "labelFontSize": 13, "labelColor": "#222", "labelPadding": 2, "tickSize": 4, "tickWidth": 1.5, "domainWidth": 3, "domainColor": "#000", "tickColor": "#000", "titleFont": "Liberation Sans", "titleFontWeight": "bold", "titleFontSize": 13, "titleColor": "#222", "titlePadding": 8}},
    "y": {"field": "D", "type": "quantitative", "scale": {"domain": [-90, 20], "nice": false, "zero": false},
      "axis": {"orient": "right", "title": "DTG, mg min⁻¹", "titleAngle": 270, "titleBaseline": "top", "values": [0, -37, -74], "format": "d", "labelFont": "Liberation Serif", "labelFontWeight": "bold", "labelFontSize": 13, "labelColor": "#222", "labelPadding": 4, "tickSize": 5, "tickWidth": 1.5, "domainWidth": 3, "domainColor": "#000", "tickColor": "#000", "titleFont": "Liberation Sans", "titleFontWeight": "normal", "titleFontSize": 12.5, "titleColor": "#222", "titlePadding": 4}},
    "color": {"field": "s", "type": "nominal", "scale": {"domain": ["(Weight loss)", "(DTG)"], "range": ["#ee2a2a", "#2f4da3"]}, "legend": null}
   }},
  {"layer": [
    {"data": {"name": "tga"}, "mark": {"type": "line", "strokeWidth": 2.2},
     "encoding": {
      "x": {"field": "T", "type": "quantitative"},
      "y": {"field": "W", "type": "quantitative", "scale": {"domain": [20, 110], "nice": false, "zero": false},
        "axis": {"orient": "left", "title": "Weight Loss, %", "values": [26,39,52,65,78,91,104], "format": "d", "labelFont": "Liberation Serif", "labelFontWeight": "bold", "labelFontSize": 13, "labelColor": "#222", "labelPadding": 2, "tickSize": 4, "tickWidth": 1.5, "domainWidth": 3, "domainColor": "#000", "tickColor": "#000", "titleFont": "Liberation Sans", "titleFontWeight": "bold", "titleFontSize": 13, "titleColor": "#222", "titlePadding": 6}},
      "color": {"field": "s", "type": "nominal", "legend": null}
     }},
    {"data": {"name": "hlines"}, "mark": {"type": "rule", "color": "#7b1a1a", "strokeWidth": 2.5},
     "encoding": {"x": {"field": "T", "type": "quantitative"}, "x2": {"field": "T2"}, "y": {"field": "W", "type": "quantitative"}}},
    {"data": {"name": "vlines"}, "mark": {"type": "rule", "color": "#7b1a1a", "strokeWidth": 2.5},
     "encoding": {"x": {"field": "T", "type": "quantitative"}, "y": {"field": "W", "type": "quantitative"}, "y2": {"field": "W2"}}},
    {"data": {"name": "heads"}, "mark": {"type": "point", "shape": "triangle-down", "filled": true, "color": "#7b1a1a", "size": 45, "opacity": 1},
     "encoding": {"x": {"field": "T", "type": "quantitative"}, "y": {"field": "W", "type": "quantitative"}}},
    {"data": {"name": "notes"}, "mark": {"type": "text", "font": "Liberation Serif", "fontWeight": "bold", "fontSize": 12.5, "color": "#333", "align": "left", "baseline": "middle"},
     "encoding": {"x": {"field": "T", "type": "quantitative"}, "y": {"field": "W", "type": "quantitative"}, "text": {"field": "label"}}},
    {"data": {"name": "legc"}, "mark": {"type": "rule", "strokeWidth": 4.5},
     "encoding": {"x": {"field": "T", "type": "quantitative"}, "x2": {"field": "T2"}, "y": {"field": "W", "type": "quantitative"}, "color": {"field": "s", "type": "nominal", "legend": null}}},
    {"data": {"name": "legc"}, "mark": {"type": "text", "align": "left", "baseline": "middle", "font": "Liberation Sans", "fontSize": 12.5, "fontWeight": "bold", "color": "#222"},
     "encoding": {"x": {"field": "LT", "type": "quantitative"}, "y": {"field": "W", "type": "quantitative"}, "text": {"field": "s"}}}
  ]}
 ],
 "resolve": {"scale": {"y": "independent"}}
},
{"width": 420, "height": 392,
 "data": {"name": "cap"},
 "mark": {"type": "text", "align": "left", "baseline": "middle", "font": "Liberation Serif", "fontSize": 25.5, "color": "#000"},
 "encoding": {
  "x": {"field": "c", "type": "quantitative", "scale": {"domain": [-0.1602, 1], "nice": false, "zero": false}, "axis": null},
  "y": {"field": "line", "type": "quantitative", "scale": {"domain": [-10.17, 3.35], "reverse": true, "nice": false, "zero": false}, "axis": null},
  "text": {"field": "txt"}
 }}
]
}
